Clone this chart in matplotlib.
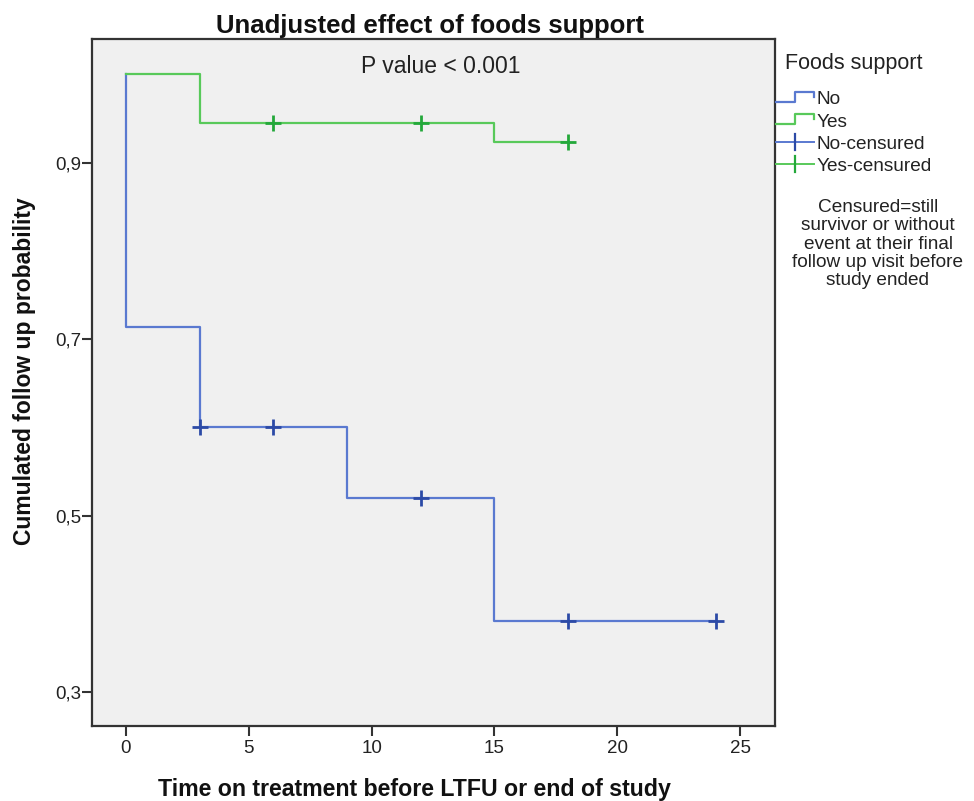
import matplotlib
matplotlib.use("Agg")
import matplotlib.pyplot as plt
from matplotlib.lines import Line2D
from matplotlib.legend_handler import HandlerBase

plt.rcParams['font.family'] = ['Liberation Sans', 'DejaVu Sans']

# ---- data ----
no_times = [0, 0, 3, 9, 15, 24]
no_surv = [1.0, 0.714, 0.600, 0.520, 0.381, 0.381]
no_cens_t = [3, 6, 12, 18, 24]
no_cens_s = [0.600, 0.600, 0.520, 0.381, 0.381]

yes_times = [0, 3, 15, 18]
yes_surv = [1.0, 0.945, 0.923, 0.923]
yes_cens_t = [6, 12, 18]
yes_cens_s = [0.945, 0.945, 0.923]

x_ticks = [0, 5, 10, 15, 20, 25]
y_ticks = [0.3, 0.5, 0.7, 0.9]
y_tick_labels = ['0,3', '0,5', '0,7', '0,9']

legend_labels = ['No', 'Yes', 'No-censured', 'Yes-censured']
note = "Censured=still\nsurvivor or without\nevent at their final\nfollow up visit before\nstudy ended"

blue_line = '#5a79d0'
blue_mark = '#2c4aa6'
green_line = '#58c95a'
green_mark = '#23a83a'

W, H = 974, 801
fig = plt.figure(figsize=(W / 100, H / 100), dpi=100)
fig.patch.set_facecolor('white')

L, R, T, B = 92, 775, 39, 726
ax = fig.add_axes([L / W, 1 - B / H, (R - L) / W, (B - T) / H])
ax.set_facecolor('#f0f0f0')

ax.step(no_times, no_surv, where='post', color=blue_line, lw=1.6, zorder=2)
ax.step(yes_times, yes_surv, where='post', color=green_line, lw=1.6, zorder=3)
ax.plot(no_cens_t, no_cens_s, ls='none', marker='+', ms=11, mew=2.0, color=blue_mark, zorder=4)
ax.plot(yes_cens_t, yes_cens_s, ls='none', marker='+', ms=11, mew=2.0, color=green_mark, zorder=4)

ax.set_xlim(-1.38, 26.42)
ax.set_ylim(0.2615, 1.0402)
ax.set_xticks(x_ticks)
ax.set_xticklabels([str(v) for v in x_ticks])
ax.set_yticks(y_ticks)
ax.set_yticklabels(y_tick_labels)
ax.tick_params(axis='both', direction='out', length=7, width=1.5, color='#333333',
               labelsize=13.5, labelcolor='#222222')
ax.tick_params(axis='y', pad=1)
ax.tick_params(axis='x', pad=3)
for s in ax.spines.values():
    s.set_color('#333333')
    s.set_linewidth(1.6)

# titles / labels
fig.text(430 / W, 1 - 33 / H, 'Unadjusted effect of foods support', ha='center', va='baseline',
         fontsize=18.5, fontweight='bold', color='#111111')
fig.text(441 / W, 1 - 73 / H, 'P value < 0.001', ha='center', va='baseline',
         fontsize=16.5, color='#222222')
fig.text(414 / W, 1 - 796 / H, 'Time on treatment before LTFU or end of study', ha='center',
         va='baseline', fontsize=16.7, fontweight='bold', color='#111111')
fig.text(25 / W, 1 - 371 / H, 'Cumulated follow up probability', ha='center', va='center',
         rotation=90, fontsize=16.5, fontweight='bold', color='#111111')


# legend handlers
class StepHandler(HandlerBase):
    def create_artists(self, legend, orig_handle, xdescent, ydescent, width, height, fontsize, trans):
        x0 = -xdescent
        y0 = -ydescent
        xs = [x0, x0 + 0.5 * width, x0 + 0.5 * width, x0 + width, x0 + width]
        ys = [y0 + 0.2 * height, y0 + 0.2 * height, y0 + 0.95 * height, y0 + 0.95 * height, y0 + 0.55 * height]
        ln = Line2D(xs, ys, color=orig_handle.get_color(), lw=1.6, transform=trans)
        return [ln]


class CensHandler(HandlerBase):
    def create_artists(self, legend, orig_handle, xdescent, ydescent, width, height, fontsize, trans):
        x0 = -xdescent
        y0 = -ydescent
        ln = Line2D([x0, x0 + width], [y0 + 0.5 * height] * 2, color=orig_handle.get_color(), lw=1.4,
                    transform=trans)
        tk = Line2D([x0 + 0.5 * width] * 2, [y0 - 0.1 * height, y0 + 1.1 * height],
                    color=orig_handle.get_markeredgecolor(), lw=1.6, transform=trans)
        return [ln, tk]


h_no = Line2D([], [], color=blue_line)
h_yes = Line2D([], [], color=green_line)
h_noc = Line2D([], [], color=blue_line, markeredgecolor=blue_mark)
h_yesc = Line2D([], [], color=green_line, markeredgecolor=green_mark)

fig.text(785 / W, 1 - 63 / H, 'Foods support', ha='left', va='center', fontsize=15.5, color='#222222')
leg = fig.legend([h_no, h_yes, h_noc, h_yesc], legend_labels, loc='upper left',
                 bbox_to_anchor=(776 / W, 1 - 91 / H), frameon=False, fontsize=13.7,
                 handlelength=2.0, handletextpad=0.12, labelspacing=0.26, borderpad=0,
                 borderaxespad=0,
                 handler_map={h_no: StepHandler(), h_yes: StepHandler(),
                              h_noc: CensHandler(), h_yesc: CensHandler()})
for t in leg.get_texts():
    t.set_color('#222222')

fig.text(878 / W, 1 - 244 / H, note, ha='center', va='center', multialignment='center',
         fontsize=13.7, linespacing=1.1, color='#222222')

fig.savefig('out.png', dpi=100)
